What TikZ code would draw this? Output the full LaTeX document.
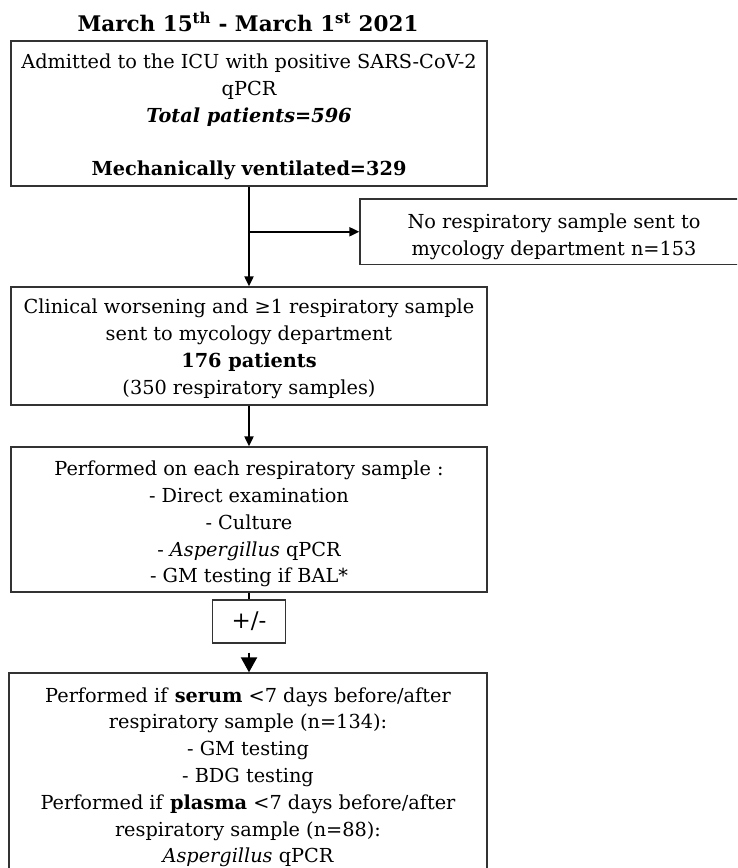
\documentclass[tikz,border=0pt]{standalone}
\usepackage{fontspec}
\setmainfont{DejaVu Serif}
\usetikzlibrary{arrows.meta}
\newcommand\padtop[1]{\rule{0pt}{\dimexpr\fontcharht\font`\d+#1\relax}}
\begin{document}
\begin{tikzpicture}[x=1pt,y=1pt,
  box/.style={draw=black!80, line width=1.3pt, rectangle, align=center, inner sep=0pt,
    font=\fontsize{19.3}{26.8}\selectfont},
  conn/.style={line width=2pt, black},
  arr/.style={conn, -{Triangle[length=10pt,width=9pt]}},
  bigarr/.style={conn, -{Triangle[length=15pt,width=16pt]}}]
\useasboundingbox (0,0) rectangle (737,-868);
\clip (0,0) rectangle (737,-868);
\node[anchor=base, font=\fontsize{21.5}{26}\selectfont\bfseries] (title) at (248,-31)
  {March 15\textsuperscript{th} - March 1\textsuperscript{st} 2021};
\node[box, minimum width=476pt, minimum height=145pt] (b1) at (249,-113.5)
  {\padtop{8pt}Admitted to the ICU with positive SARS-CoV-2\\qPCR\\\textbf{\textit{Total patients=596}}\\[26.8pt]\textbf{Mechanically ventilated=329}};
\node[box, minimum width=388pt, minimum height=65.5pt] (b2) at (554,-231.75)
  {\padtop{10pt}No respiratory sample sent to\\mycology department n=153};
\node[box, minimum width=476pt, minimum height=118pt] (b3) at (249,-346)
  {\padtop{6pt}Clinical worsening and ≥1 respiratory sample\\sent to mycology department\\\textbf{176 patients}\\(350 respiratory samples)};
\node[box, minimum width=476pt, minimum height=145pt] (b4) at (249,-519.5)
  {\padtop{10pt}Performed on each respiratory sample :\\- Direct examination\\- Culture\\- \textit{Aspergillus} qPCR\\- GM testing if BAL*};
\node[box, minimum width=73pt, minimum height=43pt, font=\fontsize{23}{26}\selectfont] (pm) at (249,-621.5) {+/-};
\node[box, minimum width=478pt, minimum height=207pt] (b5) at (248,-776.5)
  {\padtop{2pt}Performed if \textbf{serum} <7 days before/after\\respiratory sample (n=134):\\- GM testing\\- BDG testing\\Performed if \textbf{plasma} <7 days before/after\\respiratory sample (n=88):\\\textit{Aspergillus} qPCR};
\coordinate (split) at (b1.south |- b2.west);
\draw[arr] (b1.south) -- (b3.north);
\draw[arr] (split) -- (b2.west);
\draw[arr] (b3.south) -- (b4.north);
\draw[conn] (b4.south) -- (pm.north);
\draw[bigarr, shorten <=9pt] (pm.south) -- (pm.south |- b5.north);
\end{tikzpicture}
\end{document}
